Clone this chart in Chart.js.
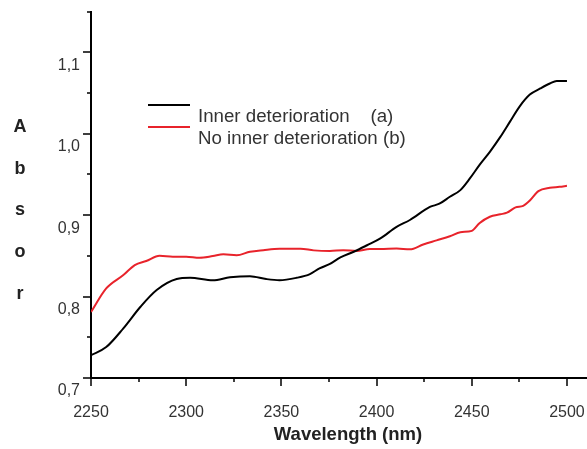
<!DOCTYPE html>
<html>
<head>
<meta charset="utf-8">
<script src="https://cdn.jsdelivr.net/npm/chart.js@4/dist/chart.umd.min.js"></script>
<style>
  html, body { margin: 0; padding: 0; background: #fff; }
  #wrap { width: 587px; height: 449px; position: relative; }
</style>
</head>
<body>
<div id="wrap"><canvas id="c" width="587" height="449"></canvas></div>
<script>
// ---- data ----
const innerX = [2250, 2258, 2267, 2276, 2284.5, 2295, 2302, 2314, 2323, 2333.5, 2342, 2349, 2358, 2365, 2370, 2375.5, 2381, 2388, 2395, 2402, 2410.5, 2417.5, 2428, 2433, 2438.5, 2444, 2449, 2454, 2459.5, 2465, 2470, 2475, 2480.5, 2486, 2491, 2494.6, 2500];
const innerY = [0.728, 0.738, 0.761, 0.7875, 0.808, 0.8215, 0.823, 0.820, 0.8236, 0.825, 0.8215, 0.820, 0.823, 0.8276, 0.8346, 0.840, 0.848, 0.855, 0.863, 0.8714, 0.8856, 0.894, 0.910, 0.914, 0.9225, 0.9307, 0.945, 0.9614, 0.9777, 0.996, 1.0145, 1.033, 1.048, 1.0555, 1.0616, 1.0648, 1.0648];
const noInnerX = [2250, 2258, 2267, 2273, 2279, 2286, 2293, 2300, 2307, 2314, 2319.5, 2326.5, 2333.5, 2340.5, 2349, 2360, 2367, 2375.5, 2382.5, 2389.5, 2396.5, 2402, 2410.5, 2417.5, 2424.5, 2431.5, 2438.5, 2444, 2450, 2454, 2459.5, 2465, 2468.5, 2473, 2477, 2480.5, 2485, 2491, 2496, 2500];
const noInnerY = [0.781, 0.810, 0.8264, 0.8387, 0.8436, 0.850, 0.849, 0.849, 0.8476, 0.8497, 0.8518, 0.8506, 0.855, 0.857, 0.8587, 0.8587, 0.8567, 0.856, 0.857, 0.856, 0.8583, 0.8583, 0.859, 0.858, 0.864, 0.869, 0.874, 0.879, 0.8807, 0.890, 0.898, 0.901, 0.903, 0.9095, 0.9114, 0.918, 0.9295, 0.9335, 0.9347, 0.936];
const seriesNames = ['Inner deterioration    (a)', 'No inner deterioration (b)'];
const xMajorTicks = [2250, 2300, 2350, 2400, 2450, 2500];
const xMinorTicks = [2275, 2325, 2375, 2425, 2475];
const yMajorTicks = [0.7, 0.8, 0.9, 1.0, 1.1];
const yMinorTicks = [0.75, 0.85, 0.95, 1.05, 1.15];
const yTickLabels = ['0,7', '0,8', '0,9', '1,0', '1,1'];
const xTitle = 'Wavelength (nm)';
const yTitleLetters = ['A', 'b', 's', 'o', 'r'];

const FONT = '"Liberation Sans", Arial, Helvetica, sans-serif';

const toPts = (xs, ys) => xs.map((x, i) => ({ x: x, y: ys[i] }));

const decor = {
  id: 'decor',
  afterDraw(chart) {
    const ctx = chart.ctx;
    const xs = chart.scales.x, ys = chart.scales.y;
    const left = chart.chartArea.left, bottom = chart.chartArea.bottom;
    ctx.save();
    ctx.strokeStyle = '#000';
    ctx.lineWidth = 1.5;
    ctx.beginPath();
    xMajorTicks.forEach(v => { const p = Math.round(xs.getPixelForValue(v)); ctx.moveTo(p, bottom); ctx.lineTo(p, bottom + 8); });
    xMinorTicks.forEach(v => { const p = Math.round(xs.getPixelForValue(v)); ctx.moveTo(p, bottom); ctx.lineTo(p, bottom + 4); });
    yMajorTicks.forEach(v => { const p = Math.round(ys.getPixelForValue(v)); ctx.moveTo(left, p); ctx.lineTo(left - 8, p); });
    yMinorTicks.forEach(v => { const p = Math.round(ys.getPixelForValue(v)); ctx.moveTo(left, p); ctx.lineTo(left - 4, p); });
    ctx.stroke();

    // y title letters
    ctx.fillStyle = '#222';
    ctx.font = 'bold 18px ' + FONT;
    ctx.textAlign = 'center';
    ctx.textBaseline = 'middle';
    yTitleLetters.forEach((l, i) => ctx.fillText(l, 20, 127 + i * 41.7));

    // x title
    ctx.font = 'bold 18.5px ' + FONT;
    ctx.fillText(xTitle, 348, 435);

    // legend
    const colors = chart.data.datasets.map(d => d.borderColor);
    ctx.font = '18.7px ' + FONT;
    ctx.textAlign = 'left';
    ctx.fillStyle = '#333';
    chart.data.datasets.forEach((d, i) => {
      const ly = 105 + i * 22;
      ctx.strokeStyle = colors[i];
      ctx.lineWidth = 2;
      ctx.beginPath();
      ctx.moveTo(148, ly); ctx.lineTo(190, ly);
      ctx.stroke();
      ctx.fillText(d.label, 198, ly + 12);
    });
    ctx.restore();
  }
};

new Chart(document.getElementById('c'), {
  type: 'line',
  data: {
    datasets: [
      { label: seriesNames[0], data: toPts(innerX, innerY), borderColor: '#000000', borderWidth: 2, pointRadius: 0, cubicInterpolationMode: 'monotone', fill: false },
      { label: seriesNames[1], data: toPts(noInnerX, noInnerY), borderColor: '#e8232b', borderWidth: 2, pointRadius: 0, cubicInterpolationMode: 'monotone', fill: false }
    ]
  },
  options: {
    responsive: false,
    animation: false,
    layout: { padding: { top: 11.5, right: 1, left: 0, bottom: 0 } },
    plugins: { legend: { display: false }, tooltip: { enabled: false } },
    scales: {
      x: {
        type: 'linear',
        min: 2250, max: 2510,
        grid: { display: false, drawTicks: false },
        border: { display: true, color: '#000', width: 2 },
        afterBuildTicks: s => { s.ticks = xMajorTicks.map(v => ({ value: v })); },
        afterFit: s => { s.height = 71; s.paddingLeft = 0; s.paddingRight = 0; },
        ticks: { color: '#333', font: { family: FONT, size: 16 }, padding: 25, maxRotation: 0, autoSkip: false, callback: v => String(v) }
      },
      y: {
        type: 'linear',
        min: 0.7, max: 1.15,
        grid: { display: false, drawTicks: false },
        border: { display: true, color: '#000', width: 2 },
        afterBuildTicks: s => { s.ticks = yMajorTicks.map(v => ({ value: v })); },
        afterFit: s => { s.width = 91; s.paddingTop = 0; s.paddingBottom = 0; },
        ticks: { color: '#333', font: { family: FONT, size: 16 }, padding: 11, labelOffset: 13, autoSkip: false,
                 callback: v => { const i = yMajorTicks.findIndex(t => Math.abs(t - v) < 1e-6); return i >= 0 ? yTickLabels[i] : ''; } }
      }
    }
  },
  plugins: [decor]
});
</script>
</body>
</html>
